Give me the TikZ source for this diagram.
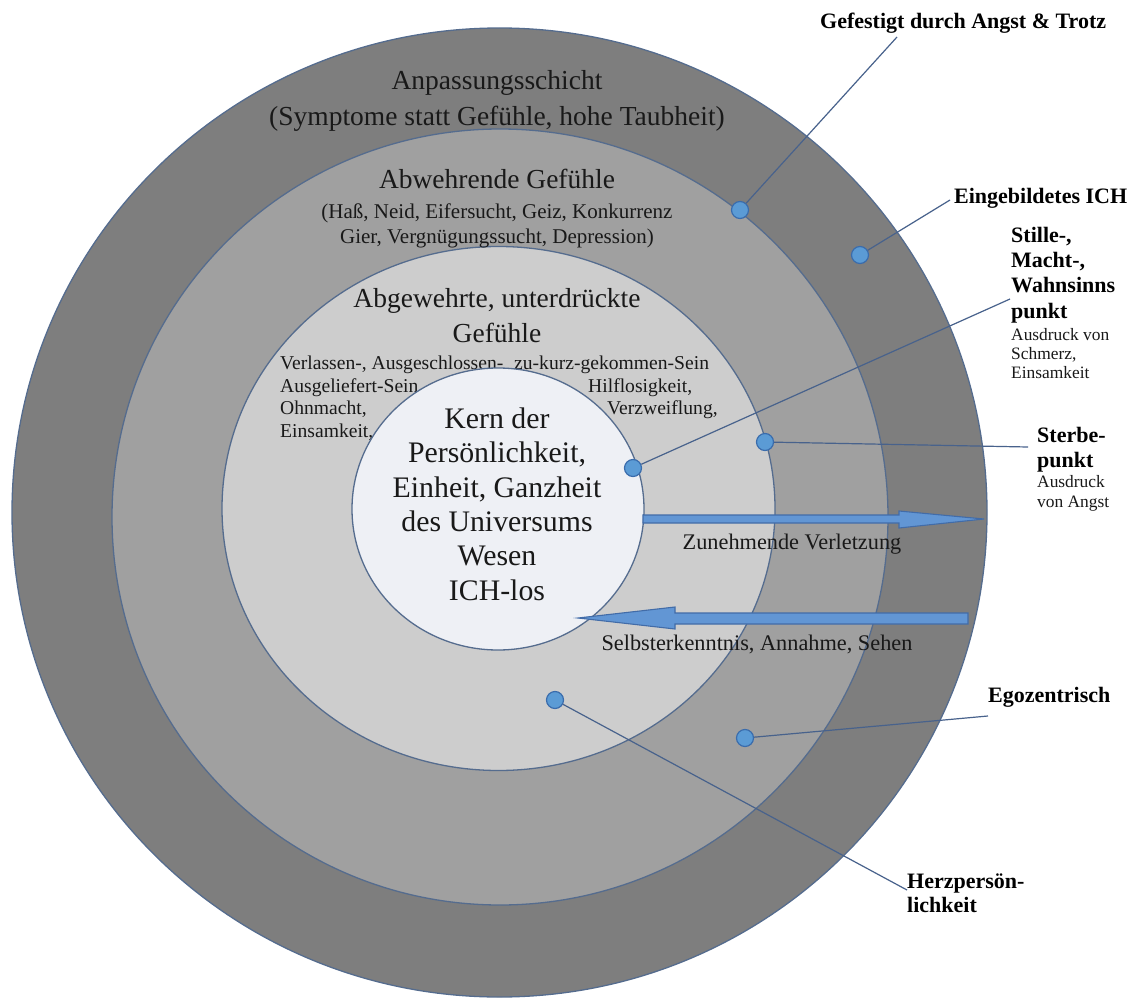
\documentclass[tikz,border=0pt]{standalone}
\usepackage{fontspec}
\setmainfont{Liberation Serif}
\usetikzlibrary{calc}
\definecolor{ringA}{RGB}{126,126,126}
\definecolor{ringB}{RGB}{160,160,160}
\definecolor{ringC}{RGB}{205,205,205}
\definecolor{core}{RGB}{238,240,245}
\definecolor{edge}{RGB}{85,108,142}
\definecolor{dotfill}{RGB}{91,155,213}
\definecolor{dotedge}{RGB}{58,108,172}
\definecolor{leader}{RGB}{72,98,140}
\definecolor{arrfill}{RGB}{98,150,212}
\definecolor{arredge}{RGB}{66,108,168}
\definecolor{ink}{RGB}{25,25,25}
\begin{document}
\begin{tikzpicture}[x=1pt,y=-1pt,
  ring/.style={draw=edge, line width=1.3pt},
  big/.style={anchor=base, inner sep=0, text=ink, font=\fontsize{27.5}{33}\selectfont},
  corefont/.style={anchor=base, inner sep=0, text=ink, font=\fontsize{29.8}{34}\selectfont},
  sub/.style={anchor=base, inner sep=0, text=ink, font=\fontsize{21}{24}\selectfont},
  small/.style={anchor=base west, inner sep=0, text=ink, font=\fontsize{19.6}{22}\selectfont},
  arrlbl/.style={anchor=base, inner sep=0, text=ink, font=\fontsize{22.3}{25}\selectfont},
  side/.style={anchor=base west, inner sep=0, text=black, font=\fontsize{22}{25}\selectfont\bfseries},
  sidesmall/.style={anchor=base west, inner sep=0, text=ink, font=\fontsize{17.4}{19}\selectfont},
  dotnode/.style={circle, minimum size=17pt, inner sep=0, fill=dotfill, draw=dotedge, line width=1.2pt},
  leaderline/.style={draw=leader, line width=1.2pt},
  blockarrow/.style={fill=arrfill, draw=arredge, line width=1.1pt, line join=miter}
]
\useasboundingbox (0,0) rectangle (1141,998);
\fill[white] (0,0) rectangle (1141,998);

% rings
\path[ring, fill=ringA] (499.5,512.5) circle[x radius=487.5, y radius=484.5];
\path[ring, fill=ringB] (500,517) circle[radius=388];
\path[ring, fill=ringC] (498.5,508.5) circle[x radius=276.5, y radius=262];

% texts of the outer rings
\node[big] (t1a) at (497,89) {Anpassungsschicht};
\node[big] (t1b) at (497,125) {(Symptome statt Gefühle, hohe Taubheit)};
\node[big] (t2a) at (497,188) {Abwehrende Gefühle};
\node[sub] (t2b) at (497,218) {(Haß, Neid, Eifersucht, Geiz, Konkurrenz};
\node[sub] (t2c) at (497,243) {Gier, Vergnügungssucht, Depression)};
\node[big] (t3a) at (497,307) {Abgewehrte, unterdrückte};
\node[big] (t3b) at (497,342) {Gefühle};
\node[small] (s1) at (280,369) {Verlassen-, Ausgeschlossen-};
\node[small] (s1b) at (514,369) {zu-kurz-gekommen-Sein};
\node[small] (s2) at (280,392) {Ausgeliefert-Sein};
\node[small] (s3) at (280,414) {Ohnmacht,};
\node[small] (s4) at (280,437) {Einsamkeit,};
\node[small] (s5) at (588,392) {Hilflosigkeit,};
\node[small] (s6) at (607,414) {Verzweiflung,};

% core
\path[ring, fill=core] (498,509) circle[x radius=146, y radius=141];
\node[corefont] (k1) at (497,428) {Kern der};
\node[corefont] (k2) at (497,462) {Persönlichkeit,};
\node[corefont] (k3) at (497,497) {Einheit, Ganzheit};
\node[corefont] (k4) at (497,531) {des Universums};
\node[corefont] (k5) at (497,565) {Wesen};
\node[corefont] (k6) at (497,600) {ICH-los};

% block arrows
\draw[blockarrow] (643,515) -- (899,515) -- (899,511) -- (984,519) -- (899,528) -- (899,523) -- (643,523) -- cycle;
\node[arrlbl] (zv) at (792,549) {Zunehmende Verletzung};
\draw[blockarrow] (968,613) -- (675,613) -- (675,607) -- (578,618) -- (675,629) -- (675,624) -- (968,624) -- cycle;
\node[arrlbl] (sa) at (757,650) {Selbsterkenntnis, Annahme, Sehen};

% side labels
\node[side] (g1) at (820,29) {Gefestigt durch Angst \& Trotz};
\node[side] (e1) at (954,203) {Eingebildetes ICH};
\node[side] (w1) at (1011,242) {Stille-,};
\node[side] (w2) at (1011,267) {Macht-,};
\node[side] (w3) at (1011,292) {Wahnsinns};
\node[side] (w4) at (1011,318) {punkt};
\node[sidesmall] (w5) at (1011,340) {Ausdruck von};
\node[sidesmall] (w6) at (1011,359) {Schmerz,};
\node[sidesmall] (w7) at (1011,378) {Einsamkeit};
\node[side] (st1) at (1037,442) {Sterbe-};
\node[side] (st2) at (1037,467) {punkt};
\node[sidesmall] (st3) at (1037,487) {Ausdruck};
\node[sidesmall] (st4) at (1037,507) {von Angst};
\node[side] (eg) at (988,702) {Egozentrisch};
\node[side] (h1) at (907,888) {Herzpersön-};
\node[side] (h2) at (907,912) {lichkeit};

% leader ends
\coordinate (l1) at (897,37);
\coordinate (l2) at (950,200);
\coordinate (l3) at (1010,299);
\coordinate (l4) at (1028,447);
\coordinate (l5) at (988,716);
\coordinate (l6) at (907,890);

% dots
\node[dotnode] (d1) at (740,210) {};
\node[dotnode] (d2) at (860,255) {};
\node[dotnode] (d3) at (633,468) {};
\node[dotnode] (d4) at (765,442) {};
\node[dotnode] (d5) at (745,738) {};
\node[dotnode] (d6) at (555,700) {};

\draw[leaderline] (d1) -- (l1);
\draw[leaderline] (d2) -- (l2);
\draw[leaderline] (d3) -- (l3);
\draw[leaderline] (d4) -- (l4);
\draw[leaderline] (d5) -- (l5);
\draw[leaderline] (d6) -- (l6);
\end{tikzpicture}
\end{document}
